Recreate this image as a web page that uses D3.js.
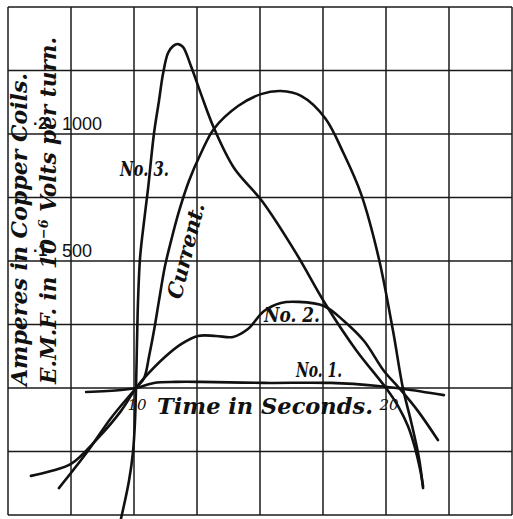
<!DOCTYPE html>
<html>
<head>
<meta charset="utf-8">
<script src="https://cdn.jsdelivr.net/npm/d3@7/dist/d3.min.js"></script>
<style>
  html, body { margin: 0; padding: 0; background: #fff; }
  svg { display: block; }
  .lbl { font-family: "DejaVu Serif", "Liberation Serif", serif; font-style: italic; fill: #111; }
  .num { font-family: "Liberation Sans", "DejaVu Sans", sans-serif; fill: #111; }
</style>
</head>
<body>
<svg id="chart" width="513" height="519"></svg>
<script>
// Grid lines: time in seconds, ampere scale
const gridSeconds = [5, 7.5, 10, 12.5, 15, 17.5, 20, 22.5, 25];
const gridAmperes = [-500, -250, 0, 250, 500, 750, 1000, 1250, 1500];

// Axis labels
const timeTicks = [10, 20];
const ampTicks = [500, 1000];
const emfTicks = ["·1", "·2"];

// Current in copper coils (amperes)
const currentT = [5.91, 6.71, 7.50, 8.57, 9.48, 10.08, 10.40, 10.60, 10.79, 10.99, 11.23, 11.47, 11.79, 12.18, 12.66, 13.17, 14.13, 15.04, 15.83, 16.63, 17.58, 18.33, 19.01, 19.72, 20.28, 20.67, 20.99, 21.31, 21.47];
const currentV = [-346, -327, -299, -197, -91, 0, 39, 126, 224, 343, 480, 579, 697, 815, 925, 1020, 1110, 1157, 1169, 1150, 1063, 921, 764, 508, 224, 0, -130, -276, -394];

// E.M.F. per turn, coil No. 1
const no1T = [8.10, 9.48, 10.08, 10.79, 11.67, 12.66, 15.16, 17.82, 19.68, 20.71, 22.30];
const no1V = [-16, -8, 0, 20, 24, 24, 20, 20, 8, -4, -28];

// E.M.F. per turn, coil No. 2
const no2T = [7.02, 8.17, 9.09, 10.08, 10.40, 11.27, 11.87, 12.54, 13.25, 13.93, 14.52, 15.16, 15.83, 16.51, 17.54, 18.33, 19.13, 19.92, 20.52, 21.27, 22.06];
const no2V = [-394, -248, -118, 0, 39, 126, 173, 205, 205, 201, 232, 303, 335, 339, 323, 264, 185, 67, 0, -91, -205];

// E.M.F. per turn, coil No. 3
const no3T = [9.48, 9.80, 9.96, 10.04, 10.08, 10.12, 10.16, 10.24, 10.40, 10.56, 10.79, 10.99, 11.15, 11.35, 11.55, 11.75, 11.94, 12.26, 12.66, 13.17, 13.97, 15.08, 16.43, 17.62, 18.81, 20.00, 20.48, 20.87, 21.15, 21.35, 21.47];
const no3V = [-516, -366, -252, -130, 0, 185, 343, 512, 657, 787, 1000, 1130, 1236, 1319, 1346, 1354, 1343, 1268, 1157, 1024, 866, 736, 531, 327, 150, 0, -71, -150, -236, -319, -386];

const svg = d3.select("#chart");
svg.append("rect").attr("width", 513).attr("height", 519).attr("fill", "#fff");

const x = d3.scaleLinear().domain([5, 25]).range([8, 512]);
const y = d3.scaleLinear().domain([-500, 1500]).range([515, 7]);

// grid
const grid = svg.append("g").attr("stroke", "#1a1a1a").attr("stroke-width", 1.5).attr("fill", "none");
grid.selectAll("line.v").data(gridSeconds).join("line")
  .attr("class", "v")
  .attr("x1", d => x(d)).attr("x2", d => x(d))
  .attr("y1", y(1500)).attr("y2", y(-500));
grid.selectAll("line.h").data(gridAmperes).join("line")
  .attr("class", "h")
  .attr("x1", x(5)).attr("x2", x(25))
  .attr("y1", d => y(d)).attr("y2", d => y(d));

// curves
const line = d3.line()
  .x(d => x(d[0])).y(d => y(d[1]))
  .curve(d3.curveCatmullRom.alpha(0.5));
const series = [
  [no1T, no1V],
  [no2T, no2V],
  [currentT, currentV],
  [no3T, no3V]
];
svg.append("g").selectAll("path").data(series).join("path")
  .attr("d", s => line(s[0].map((t, i) => [t, s[1][i]])))
  .attr("fill", "none")
  .attr("stroke", "#111")
  .attr("stroke-width", 2.6)
  .attr("stroke-linecap", "round")
  .attr("stroke-linejoin", "round");

// tick labels on the ampere scale
svg.selectAll("text.amp").data(ampTicks).join("text")
  .attr("class", "num amp")
  .attr("x", x(5) + 54)
  .attr("y", d => y(d) - 4)
  .attr("font-size", 18)
  .text(d => d);
svg.selectAll("text.emf").data(emfTicks).join("text")
  .attr("class", "num emf")
  .attr("x", x(5) + 25)
  .attr("y", (d, i) => y(ampTicks[i]) - 5)
  .attr("font-size", 16)
  .attr("font-weight", "bold")
  .text(d => d);

// tick labels on the time axis
svg.selectAll("text.time").data(timeTicks).join("text")
  .attr("class", "lbl time")
  .attr("x", d => x(d) + 3)
  .attr("y", y(0) + 22)
  .attr("text-anchor", "middle")
  .attr("font-style", "normal")
  .attr("font-size", 15)
  .text(d => d);

// axis titles
svg.append("text").attr("class", "lbl")
  .attr("x", 157).attr("y", y(0) + 26)
  .attr("font-size", 22).attr("font-weight", "bold")
  .attr("textLength", 216).attr("lengthAdjust", "spacingAndGlyphs")
  .text("Time in Seconds.");

svg.append("text").attr("class", "lbl")
  .attr("transform", "translate(27,386) rotate(-90)")
  .attr("font-size", 22).attr("font-weight", "bold")
  .attr("textLength", 313).attr("lengthAdjust", "spacingAndGlyphs")
  .text("Amperes in Copper Coils.");

const emf = svg.append("text").attr("class", "lbl")
  .attr("transform", "translate(56,384) rotate(-90)")
  .attr("font-size", 22).attr("font-weight", "bold")
  .attr("textLength", 347).attr("lengthAdjust", "spacingAndGlyphs");
emf.append("tspan").text("E.M.F. in 10");
emf.append("tspan").attr("dy", -8).attr("font-size", 13).text("−6");
emf.append("tspan").attr("dy", 8).text(" Volts per turn.");

// curve names
svg.append("text").attr("class", "lbl")
  .attr("x", 120).attr("y", 176).attr("font-size", 21).attr("font-weight", "bold")
  .attr("textLength", 49).attr("lengthAdjust", "spacingAndGlyphs")
  .text("No. 3.");
svg.append("text").attr("class", "lbl")
  .attr("x", 264).attr("y", 322).attr("font-size", 21).attr("font-weight", "bold")
  .attr("textLength", 56).attr("lengthAdjust", "spacingAndGlyphs")
  .text("No. 2.");
svg.append("text").attr("class", "lbl")
  .attr("x", 296).attr("y", 377).attr("font-size", 21).attr("font-weight", "bold")
  .attr("textLength", 46).attr("lengthAdjust", "spacingAndGlyphs")
  .text("No. 1.");
svg.append("text").attr("class", "lbl")
  .attr("transform", "translate(181,300) rotate(-76)")
  .attr("font-size", 21).attr("font-weight", "bold")
  .attr("textLength", 98).attr("lengthAdjust", "spacingAndGlyphs")
  .text("Current.");
</script>
</body>
</html>
